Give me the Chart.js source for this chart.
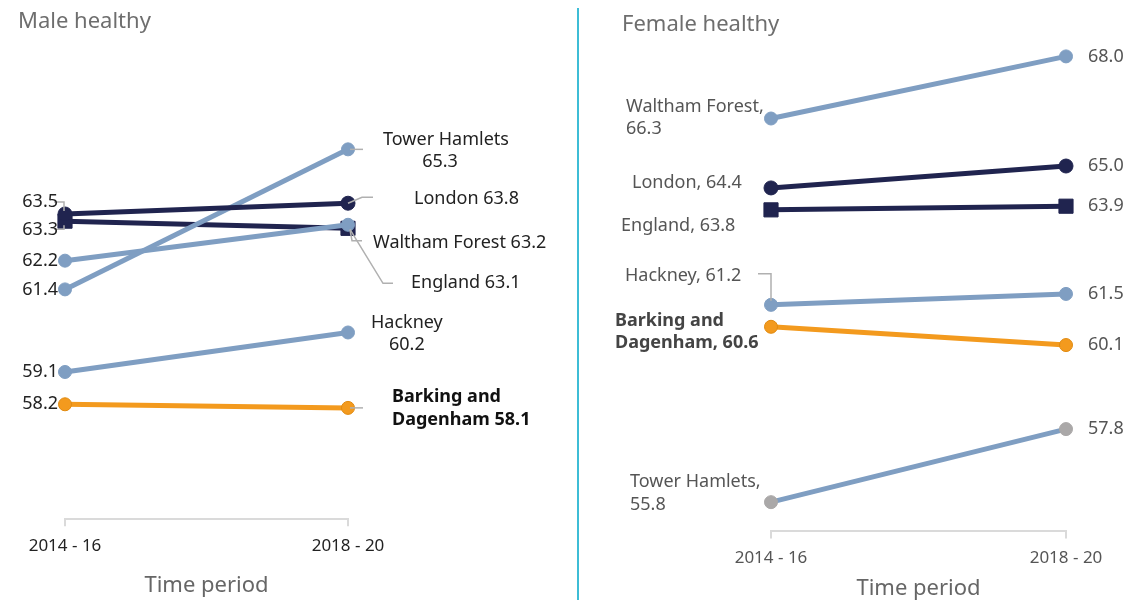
<!DOCTYPE html>
<html>
<head>
<meta charset="utf-8">
<script src="https://cdn.jsdelivr.net/npm/chart.js@4"></script>
<style>
  body { margin: 0; background: #fff; }
  .panel { position: absolute; top: 0; height: 600px; }
  #male { left: 0; width: 578px; }
  #female { left: 580px; width: 548px; }
  #divider { position: absolute; left: 577px; top: 8px; width: 2px; height: 592px; background: #3dbdd6; }
</style>
</head>
<body>
<div id="male" class="panel"><canvas id="canvas-male" width="578" height="600"></canvas></div>
<div id="divider"></div>
<div id="female" class="panel"><canvas id="canvas-female" width="548" height="600"></canvas></div>
<script>
const periods = ["2014 - 16", "2018 - 20"];

// male healthy life expectancy
const maleLondon = [63.5, 63.8];
const maleWalthamForest = [62.2, 63.2];
const maleEngland = [63.3, 63.1];
const maleTowerHamlets = [61.4, 65.3];
const maleHackney = [59.1, 60.2];
const maleBarking = [58.2, 58.1];

// female healthy life expectancy
const femaleLondon = [64.4, 65.0];
const femaleEngland = [63.8, 63.9];
const femaleWalthamForest = [66.3, 68.0];
const femaleTowerHamlets = [55.8, 57.8];
const femaleHackney = [61.2, 61.5];
const femaleBarking = [60.6, 60.1];

const NAVY = "#20244f";
const STEEL = "#7f9ec2";
const ORANGE = "#f39a1e";
const GREY_PT = "#aaa8a8";
const FONT = "'Noto Sans', sans-serif";

function fmt(v) {
    return v.toFixed(1);
}

function series(label, data, color, opts) {
    return Object.assign({
        label: label,
        data: data,
        borderColor: color,
        backgroundColor: color,
        pointBackgroundColor: color,
        pointBorderColor: color,
        borderWidth: 5,
        pointRadius: 6.5,
        pointHoverRadius: 6.5,
        pointBorderWidth: 1,
        pointStyle: "circle",
        clip: false
    }, opts || {});
}

// draws the area names / values next to the end points
const slopeLabels = {
    id: "slopeLabels",
    afterDatasetsDraw(chart, args, opts) {
        const ctx = chart.ctx;
        ctx.save();
        opts.items.forEach(function (item) {
            const meta = chart.getDatasetMeta(item.dataset);
            const pt = meta.data[item.point];
            if (item.leader) {
                ctx.beginPath();
                ctx.strokeStyle = "#b0b0b0";
                ctx.lineWidth = 1.5;
                item.leader.forEach(function (p, i) {
                    if (i == 0) ctx.moveTo(pt.x + p[0], pt.y + p[1]);
                    else ctx.lineTo(pt.x + p[0], pt.y + p[1]);
                });
                ctx.stroke();
            }
            item.lines.forEach(function (line) {
                ctx.font = (line.bold ? "bold " : "") + opts.size + "px " + FONT;
                ctx.fillStyle = line.bold ? opts.boldColor : opts.color;
                ctx.textAlign = line.align || "left";
                ctx.textBaseline = "middle";
                ctx.fillText(line.text, pt.x + line.dx, pt.y + line.dy);
            });
        });
        ctx.restore();
    }
};

function makeOptions(title, titlePad, leftPad, axisWidth, rightPad, tickColor, axisTitle, labelItems, labelColor, boldColor) {
    return {
        responsive: false,
        animation: false,
        events: [],
        layout: { padding: { left: leftPad, right: rightPad, top: 0, bottom: 0 } },
        scales: {
            x: {
                offset: false,
                border: { display: true, color: "#dadada", width: 2 },
                grid: { display: true, drawOnChartArea: false, drawTicks: true, tickLength: 7, color: "#dadada", lineWidth: 2 },
                ticks: { color: tickColor, font: { family: FONT, size: 17 }, padding: 10, maxRotation: 0 },
                title: axisTitle
            },
            y: {
                min: 55,
                max: 68,
                border: { display: false },
                grid: { display: false },
                ticks: { display: false },
                afterFit: function (scale) { scale.width = axisWidth; }
            }
        },
        plugins: {
            legend: { display: false },
            tooltip: { enabled: false },
            title: {
                display: true,
                text: title,
                align: "start",
                color: "#6e6e6e",
                font: { family: FONT, size: 22, weight: "normal" },
                padding: titlePad
            },
            slopeLabels: { items: labelItems, size: 18, color: labelColor, boldColor: boldColor }
        }
    };
}

// ---- Male ----
const maleLabels = [
    { dataset: 0, point: 0, lines: [{ text: fmt(maleLondon[0]), dx: -7, dy: -12, align: "right" }], leader: [[-11, -12], [-1, -12], [-1, -3]] },
    { dataset: 3, point: 0, lines: [{ text: fmt(maleEngland[0]), dx: -7, dy: 9, align: "right" }], leader: [[-11, 8], [-1, 8], [-1, 4]] },
    { dataset: 2, point: 0, lines: [{ text: fmt(maleWalthamForest[0]), dx: -7, dy: 0, align: "right" }] },
    { dataset: 1, point: 0, lines: [{ text: fmt(maleTowerHamlets[0]), dx: -7, dy: 0, align: "right" }] },
    { dataset: 4, point: 0, lines: [{ text: fmt(maleHackney[0]), dx: -7, dy: 0, align: "right" }] },
    { dataset: 5, point: 0, lines: [{ text: fmt(maleBarking[0]), dx: -7, dy: 0, align: "right" }] },
    { dataset: 1, point: 1, lines: [{ text: "Tower Hamlets", dx: 98, dy: -9, align: "center" }, { text: fmt(maleTowerHamlets[1]), dx: 92, dy: 13, align: "center" }], leader: [[2, 0], [15, 0]] },
    { dataset: 0, point: 1, lines: [{ text: "London " + fmt(maleLondon[1]), dx: 66, dy: -4 }], leader: [[0, 0], [14, -6], [25, -6]] },
    { dataset: 2, point: 1, lines: [{ text: "Waltham Forest " + fmt(maleWalthamForest[1]), dx: 25, dy: 18 }], leader: [[2, 5], [4, 16], [14, 16]] },
    { dataset: 3, point: 1, lines: [{ text: "England " + fmt(maleEngland[1]), dx: 63, dy: 55 }], leader: [[2, 1], [35, 55], [45, 55]] },
    { dataset: 4, point: 1, lines: [{ text: "Hackney", dx: 23, dy: -10 }, { text: fmt(maleHackney[1]), dx: 41, dy: 12 }] },
    { dataset: 5, point: 1, lines: [{ text: "Barking and", dx: 44, dy: -11, bold: true }, { text: "Dagenham " + fmt(maleBarking[1]), dx: 44, dy: 12, bold: true }], leader: [[2, 0], [15, 0]] }
];

new Chart(document.getElementById("canvas-male").getContext("2d"), {
    type: "line",
    data: {
        labels: periods,
        datasets: [
            series("London", maleLondon, NAVY, { pointRadius: 7 }),
            series("Tower Hamlets", maleTowerHamlets, STEEL),
            series("Waltham Forest", maleWalthamForest, STEEL),
            series("England", maleEngland, NAVY, { pointStyle: "rect", pointRadius: 10 }),
            series("Hackney", maleHackney, STEEL),
            series("Barking and Dagenham", maleBarking, ORANGE, { pointRadius: 6.5, pointBorderColor: "#e08a10" })
        ]
    },
    options: makeOptions("Male healthy", { top: 9, bottom: 17 }, 18, 47, 230, "#222",
        { display: true, text: "Time period", color: "#666", font: { family: FONT, size: 22 }, padding: { top: 6, bottom: 1 } },
        maleLabels, "#222", "#111"),
    plugins: [slopeLabels]
});

// ---- Female ----
const femaleLabels = [
    { dataset: 0, point: 0, lines: [{ text: "Waltham Forest,", dx: -145, dy: -12 }, { text: fmt(femaleWalthamForest[0]), dx: -145, dy: 10 }] },
    { dataset: 1, point: 0, lines: [{ text: "London, " + fmt(femaleLondon[0]), dx: -139, dy: -5 }] },
    { dataset: 2, point: 0, lines: [{ text: "England, " + fmt(femaleEngland[0]), dx: -150, dy: 16 }] },
    { dataset: 3, point: 0, lines: [{ text: "Hackney, " + fmt(femaleHackney[0]), dx: -146, dy: -29 }], leader: [[-13, -31], [0, -31], [0, -4]] },
    { dataset: 4, point: 0, lines: [{ text: "Barking and", dx: -156, dy: -6, bold: true }, { text: "Dagenham, " + fmt(femaleBarking[0]), dx: -156, dy: 16, bold: true }] },
    { dataset: 5, point: 0, lines: [{ text: "Tower Hamlets,", dx: -141, dy: -20 }, { text: fmt(femaleTowerHamlets[0]), dx: -141, dy: 3 }] },
    { dataset: 0, point: 1, lines: [{ text: fmt(femaleWalthamForest[1]), dx: 22, dy: 0 }] },
    { dataset: 1, point: 1, lines: [{ text: fmt(femaleLondon[1]), dx: 22, dy: 0 }] },
    { dataset: 2, point: 1, lines: [{ text: fmt(femaleEngland[1]), dx: 22, dy: 0 }] },
    { dataset: 3, point: 1, lines: [{ text: fmt(femaleHackney[1]), dx: 22, dy: 0 }] },
    { dataset: 4, point: 1, lines: [{ text: fmt(femaleBarking[1]), dx: 22, dy: 0 }] },
    { dataset: 5, point: 1, lines: [{ text: fmt(femaleTowerHamlets[1]), dx: 22, dy: 0 }] }
];

new Chart(document.getElementById("canvas-female").getContext("2d"), {
    type: "line",
    data: {
        labels: periods,
        datasets: [
            series("Waltham Forest", femaleWalthamForest, STEEL),
            series("London", femaleLondon, NAVY, { pointRadius: 7 }),
            series("England", femaleEngland, NAVY, { pointStyle: "rect", pointRadius: 10 }),
            series("Hackney", femaleHackney, STEEL),
            series("Barking and Dagenham", femaleBarking, ORANGE, { pointRadius: 6.5, pointBorderColor: "#e08a10" }),
            series("Tower Hamlets", femaleTowerHamlets, STEEL, { pointBackgroundColor: GREY_PT, pointBorderColor: GREY_PT })
        ]
    },
    options: makeOptions("Female healthy", { top: 12, bottom: 18 }, 42, 149, 62, "#555",
        { display: true, text: "Time period", color: "#666", font: { family: FONT, size: 22, lineHeight: 0.6 }, padding: { top: 3, bottom: 5 } },
        femaleLabels, "#555", "#444"),
    plugins: [slopeLabels]
});
</script>
</body>
</html>
